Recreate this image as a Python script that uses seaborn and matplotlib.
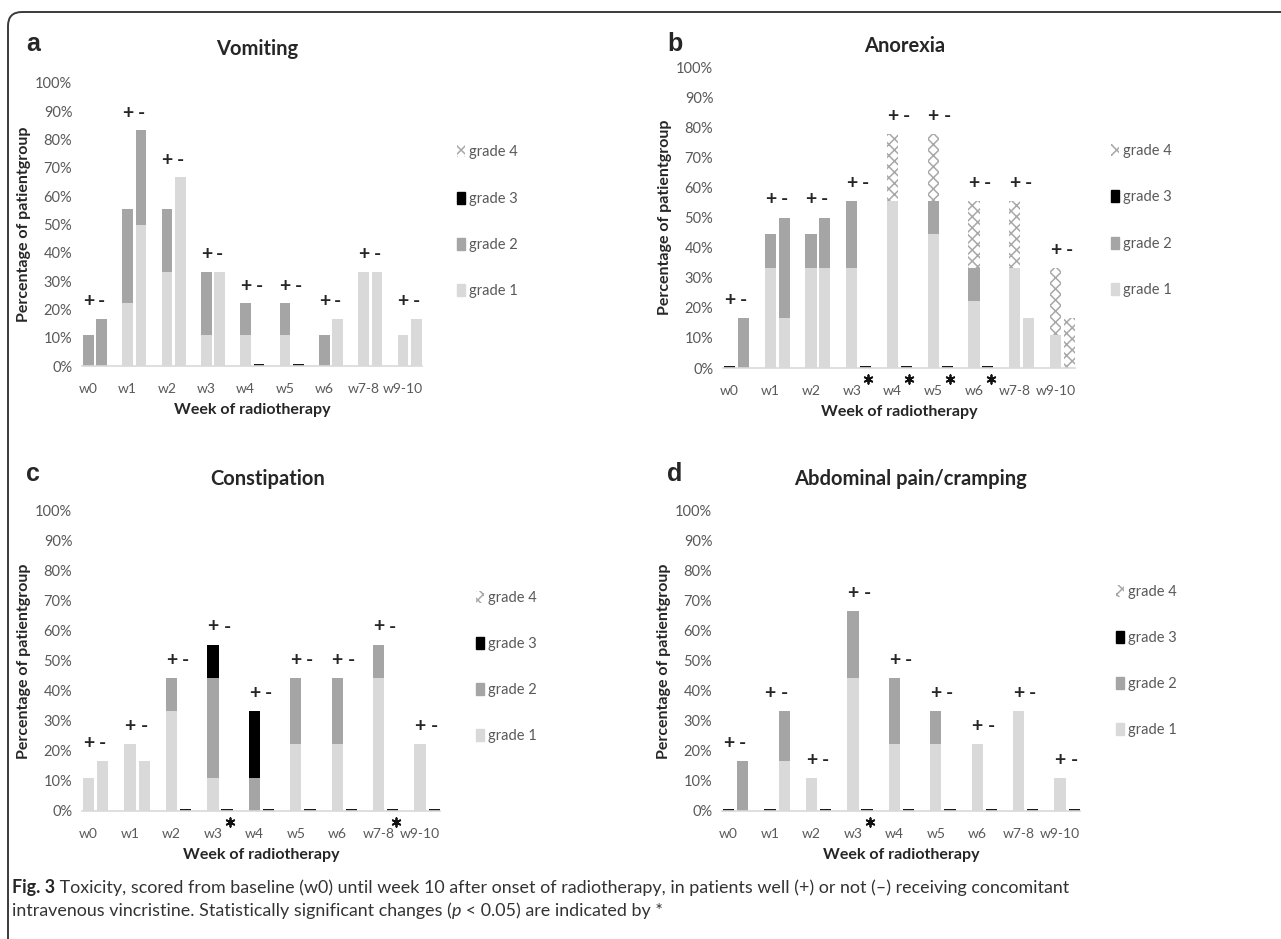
import numpy as np
import pandas as pd
import matplotlib.pyplot as plt
import matplotlib.patches as mpatches
import seaborn as sns

# Estilo geral
sns.set_theme(style="white")
plt.rcParams['font.family'] = ['Lato', 'DejaVu Sans']
plt.rcParams['hatch.linewidth'] = 1.1

weeks = ["w0", "w1", "w2", "w3", "w4", "w5", "w6", "w7-8", "w9-10"]
groups = ["+", "-"]
grades = ["grade 4", "grade 3", "grade 2", "grade 1"]

# Vomiting (+ = com vincristina, - = sem)
vom_plus_g1 = [0, 22.2, 33.3, 11.1, 11.1, 11.1, 0, 33.3, 11.1]
vom_plus_g2 = [11.1, 33.3, 22.2, 22.2, 11.1, 11.1, 11.1, 0, 0]
vom_plus_g3 = [0, 0, 0, 0, 0, 0, 0, 0, 0]
vom_plus_g4 = [0, 0, 0, 0, 0, 0, 0, 0, 0]
vom_minus_g1 = [0, 50.0, 66.7, 33.3, 0, 0, 16.7, 33.3, 16.7]
vom_minus_g2 = [16.7, 33.3, 0, 0, 0, 0, 0, 0, 0]
vom_minus_g3 = [0, 0, 0, 0, 0, 0, 0, 0, 0]
vom_minus_g4 = [0, 0, 0, 0, 0, 0, 0, 0, 0]
vom_sig = [0, 0, 0, 0, 0, 0, 0, 0, 0]

# Anorexia
ano_plus_g1 = [0, 33.3, 33.3, 33.3, 55.6, 44.4, 22.2, 33.3, 11.1]
ano_plus_g2 = [0, 11.1, 11.1, 22.2, 0, 11.1, 11.1, 0, 0]
ano_plus_g3 = [0, 0, 0, 0, 0, 0, 0, 0, 0]
ano_plus_g4 = [0, 0, 0, 0, 22.2, 22.2, 22.2, 22.2, 22.2]
ano_minus_g1 = [0, 16.7, 33.3, 0, 0, 0, 0, 16.7, 0]
ano_minus_g2 = [16.7, 33.3, 16.7, 0, 0, 0, 0, 0, 0]
ano_minus_g3 = [0, 0, 0, 0, 0, 0, 0, 0, 0]
ano_minus_g4 = [0, 0, 0, 0, 0, 0, 0, 0, 16.7]
ano_sig = [0, 0, 0, 1, 1, 1, 1, 0, 0]

# Constipation
con_plus_g1 = [11.1, 22.2, 33.3, 11.1, 0, 22.2, 22.2, 44.4, 22.2]
con_plus_g2 = [0, 0, 11.1, 33.3, 11.1, 22.2, 22.2, 11.1, 0]
con_plus_g3 = [0, 0, 0, 11.1, 22.2, 0, 0, 0, 0]
con_plus_g4 = [0, 0, 0, 0, 0, 0, 0, 0, 0]
con_minus_g1 = [16.7, 16.7, 0, 0, 0, 0, 0, 0, 0]
con_minus_g2 = [0, 0, 0, 0, 0, 0, 0, 0, 0]
con_minus_g3 = [0, 0, 0, 0, 0, 0, 0, 0, 0]
con_minus_g4 = [0, 0, 0, 0, 0, 0, 0, 0, 0]
con_sig = [0, 0, 0, 1, 0, 0, 0, 1, 0]

# Abdominal pain/cramping
abd_plus_g1 = [0, 0, 11.1, 44.4, 22.2, 22.2, 22.2, 33.3, 11.1]
abd_plus_g2 = [0, 0, 0, 22.2, 22.2, 11.1, 0, 0, 0]
abd_plus_g3 = [0, 0, 0, 0, 0, 0, 0, 0, 0]
abd_plus_g4 = [0, 0, 0, 0, 0, 0, 0, 0, 0]
abd_minus_g1 = [0, 16.7, 0, 0, 0, 0, 0, 0, 0]
abd_minus_g2 = [16.7, 16.7, 0, 0, 0, 0, 0, 0, 0]
abd_minus_g3 = [0, 0, 0, 0, 0, 0, 0, 0, 0]
abd_minus_g4 = [0, 0, 0, 0, 0, 0, 0, 0, 0]
abd_sig = [0, 0, 0, 1, 0, 0, 0, 0, 0]

c_g1 = "#d9d9d9"
c_g2 = "#a5a5a5"
c_g3 = "#000000"
c_g4 = "#a8a8a8"
tick_col = "#595959"


def build(plus, minus):
    rows = []
    for gname, vals in (("+", plus), ("-", minus)):
        g1, g2, g3, g4 = [np.array(v, dtype=float) for v in vals]
        for i, w in enumerate(weeks):
            rows.append(dict(week=w, group=gname, g1=g1[i], g2=g2[i], g3=g3[i], g4=g4[i]))
    df = pd.DataFrame(rows)
    df["c1"] = df.g1
    df["c2"] = df.c1 + df.g2
    df["c3"] = df.c2 + df.g3
    df["c4"] = df.c3 + df.g4
    df["zero"] = np.where(df.c4 == 0, 0.8, 0)
    return df


def layer(ax, df, col, color, **kw):
    sns.barplot(data=df, x="week", y=col, hue="group", order=weeks, hue_order=groups,
                palette={"+": color, "-": color}, width=0.68, gap=0.2, saturation=1,
                errorbar=None, legend=False, ax=ax, linewidth=0, **kw)


def plot_panel(ax, df, sig, legend_y):
    layer(ax, df, "c4", "white", hatch="xxx", edgecolor=c_g4)
    layer(ax, df, "c3", c_g3, edgecolor=c_g3)
    layer(ax, df, "c2", c_g2, edgecolor=c_g2)
    layer(ax, df, "c1", c_g1, edgecolor=c_g1)
    layer(ax, df, "zero", "#1a1a1a", edgecolor="#1a1a1a")

    ax.set_ylim(0, 100)
    ax.set_xlim(-0.33, 8.31)
    ax.set_yticks(np.arange(0, 101, 10))
    ax.set_yticklabels([f"{v}%" for v in range(0, 101, 10)])
    ax.set_xticks(np.arange(len(weeks)) - 0.17)
    ax.set_xticklabels(weeks)
    ax.tick_params(axis="both", length=0, labelsize=10.5, labelcolor=tick_col)
    ax.tick_params(axis="x", pad=12, labelsize=10)
    ax.tick_params(axis="y", pad=7)
    sns.despine(ax=ax, left=True)
    ax.spines["bottom"].set_color("#d9d9d9")
    ax.spines["bottom"].set_linewidth(1.2)
    ax.set_ylabel("Percentage of patientgroup", fontsize=11.5, fontweight="bold", labelpad=3)
    ax.set_xlabel("Week of radiotherapy", fontsize=11.5, fontweight="bold", labelpad=6)

    # + / - acima das barras
    tot = df.pivot(index="week", columns="group", values="c4").loc[weeks]
    for i, w in enumerate(weeks):
        top = tot.loc[w].max() + 3
        ax.text(i - 0.17, top, "+", ha="center", va="bottom", fontsize=14, fontweight="bold")
        ax.text(i + 0.17, top, "-", ha="center", va="bottom", fontsize=14, fontweight="bold")

    # asteriscos de significância (p < 0.05), logo abaixo do eixo
    sig_x = [i + 0.24 for i, s in enumerate(sig) if s]
    ax.scatter(sig_x, [-3.6] * len(sig_x), marker=(6, 2, 0), s=38, color="#111111",
               linewidths=1.3, clip_on=False, zorder=5)

    handles = [
        mpatches.Patch(facecolor="white", edgecolor=c_g4, hatch="xxx", linewidth=0),
        mpatches.Patch(facecolor=c_g3, edgecolor=c_g3),
        mpatches.Patch(facecolor=c_g2, edgecolor=c_g2),
        mpatches.Patch(facecolor=c_g1, edgecolor=c_g1),
    ]
    leg = ax.legend(handles, grades, loc="center left", bbox_to_anchor=(1.065, legend_y),
                    frameon=False, fontsize=10.5, labelspacing=2.2, handlelength=0.55,
                    handleheight=0.9, handletextpad=0.25)
    for t in leg.get_texts():
        t.set_color(tick_col)


W, H = 1281, 939
fig = plt.figure(figsize=(W / 100, H / 100), dpi=100)

# moldura e legenda da figura
bg = fig.add_axes([0, 0, 1, 1])
bg.set_xlim(0, W)
bg.set_ylim(H, 0)
bg.axis("off")
bg.patch.set_alpha(0)
bg.add_patch(mpatches.FancyBboxPatch((8, 12), W + 40, H + 40,
                                     boxstyle="round,pad=0,rounding_size=14",
                                     facecolor="none", edgecolor="#3a3a3a", linewidth=1.4))
cap_kw = dict(fontsize=12.9, va="center", ha="left", color="#333333")
fig_lbl = bg.text(12, 888, "Fig. 3", fontsize=12.9, fontweight="bold", va="center", ha="left")
bg.annotate(" Toxicity, scored from baseline (w0) until week 10 after onset of radiotherapy, "
            "in patients well (+) or not (\u2013) receiving concomitant",
            xy=(1, 0.5), xycoords=fig_lbl, **cap_kw)
line2a = bg.text(12, 911, "intravenous vincristine. Statistically significant changes (", **cap_kw)
p_txt = bg.annotate("p", xy=(1, 0.5), xycoords=line2a, style="italic", **cap_kw)
bg.annotate(" < 0.05) are indicated by *", xy=(1, 0.5), xycoords=p_txt, **cap_kw)


def px_axes(x0, x1, y0, y1):
    return fig.add_axes([x0 / W, 1 - y1 / H, (x1 - x0) / W, (y1 - y0) / H])


ax_a = px_axes(82, 422, 83, 366)
ax_b = px_axes(723, 1075, 67, 368)
ax_c = px_axes(82, 440, 511, 811)
ax_d = px_axes(722, 1080, 511, 811)

plot_panel(ax_a, build((vom_plus_g1, vom_plus_g2, vom_plus_g3, vom_plus_g4),
                       (vom_minus_g1, vom_minus_g2, vom_minus_g3, vom_minus_g4)), vom_sig, 0.51)
plot_panel(ax_b, build((ano_plus_g1, ano_plus_g2, ano_plus_g3, ano_plus_g4),
                       (ano_minus_g1, ano_minus_g2, ano_minus_g3, ano_minus_g4)), ano_sig, 0.49)
plot_panel(ax_c, build((con_plus_g1, con_plus_g2, con_plus_g3, con_plus_g4),
                       (con_minus_g1, con_minus_g2, con_minus_g3, con_minus_g4)), con_sig, 0.48)
plot_panel(ax_d, build((abd_plus_g1, abd_plus_g2, abd_plus_g3, abd_plus_g4),
                       (abd_minus_g1, abd_minus_g2, abd_minus_g3, abd_minus_g4)), abd_sig, 0.50)

# títulos e letras dos painéis
titles = [("Vomiting", 257, 49), ("Anorexia", 905, 46),
          ("Constipation", 268, 479), ("Abdominal pain/cramping", 910, 479)]
for txt, x, y in titles:
    fig.text(x / W, 1 - y / H, txt, ha="center", va="center", fontsize=14.5, fontweight="bold")
letters = [("a", 33, 44), ("b", 675, 44), ("c", 33, 474), ("d", 675, 474)]
for txt, x, y in letters:
    fig.text(x / W, 1 - y / H, txt, ha="center", va="center", fontsize=18,
             fontweight="bold", family=["Liberation Sans", "DejaVu Sans"])

fig.savefig("out.png", dpi=100)
